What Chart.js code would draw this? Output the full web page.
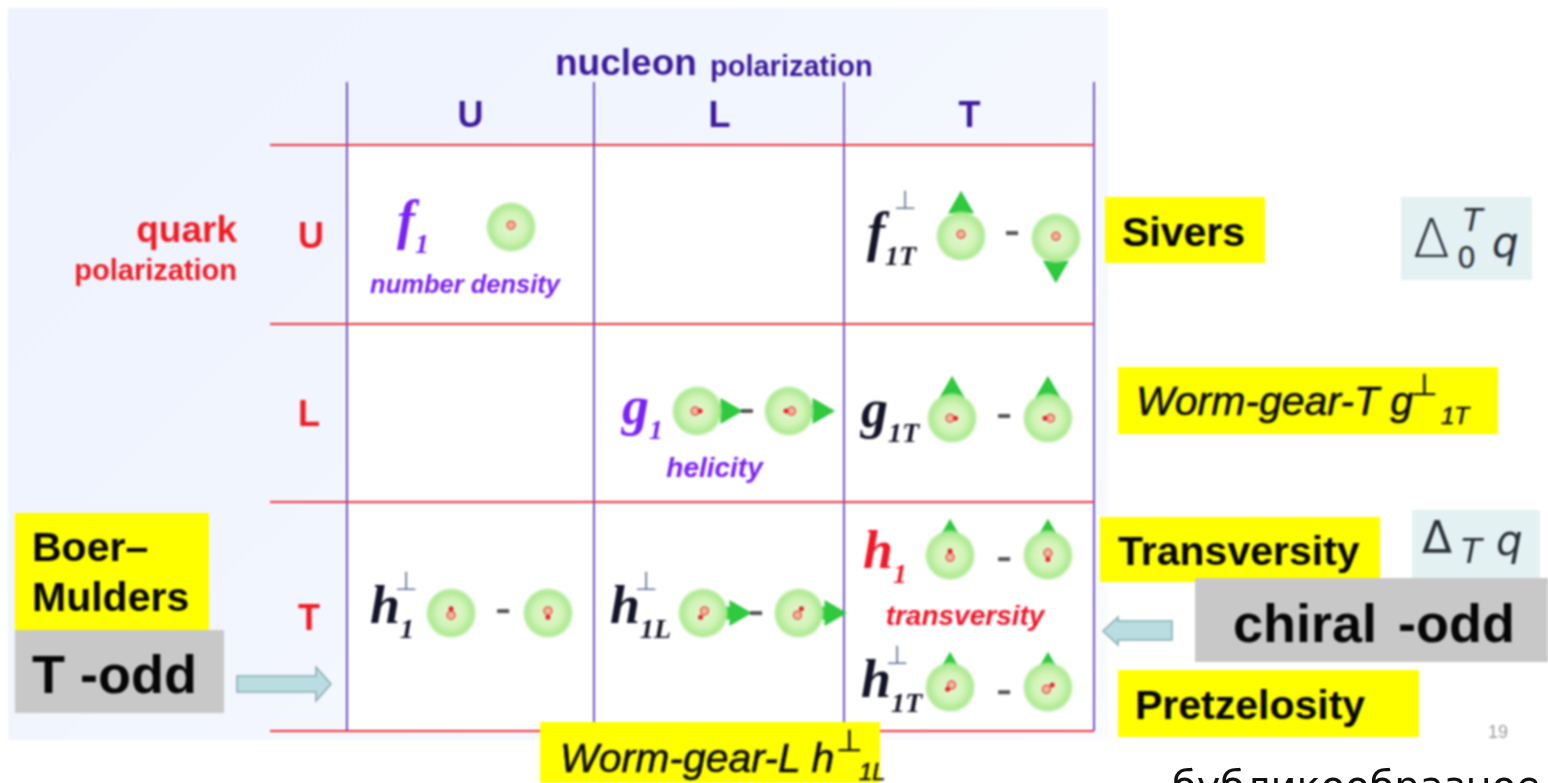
<!DOCTYPE html>
<html lang="en">
<head>
<meta charset="UTF-8">
<title>Nucleon TMDs</title>
<script src="https://cdn.jsdelivr.net/npm/chart.js"></script>
<style>
    html, body { margin: 0; padding: 0; background: #fff; overflow: hidden; }
    #page { position: absolute; left: 0; top: 0; width: 1548px; height: 783px; overflow: hidden; font-family: "Liberation Sans", Arial, sans-serif; }
    #soft { position: absolute; left: 0; top: 0; width: 1548px; height: 783px; filter: blur(0.9px); }
    #panel { position: absolute; left: 8px; top: 8px; width: 1100px; height: 732px; background: linear-gradient(135deg, #edf2fe 0%, #f2f6fe 45%, #fafbfe 100%); }
    canvas { position: absolute; left: 0; top: 0; }
    .t { position: absolute; white-space: nowrap; line-height: 1; }
    .box { position: absolute; }
    .yel { background: #ffff00; }
    .gray { background: #c8c8c8; }
    .pale { background: #e3f1f3; }
    .b { font-weight: bold; color: #060606; font-size: 41px; }
    .wg { font-style: italic; color: #0a0a0a; font-size: 41px; -webkit-text-stroke: 0.5px #0a0a0a; }
    .odd { font-weight: bold; color: #060606; font-size: 54px; }
    .head { font-weight: bold; color: #3c1a9c; }
    .red { font-weight: bold; color: #f01c24; }
    .math { font-family: "DejaVu Sans", sans-serif; color: #2a3038; }
</style>
</head>
<body>
<div id="page">
<div id="soft">
    <div id="panel"></div>
    <canvas id="tabla" width="1548" height="783"></canvas>

    <div class="t head" style="left:555px;top:44px;font-size:37px">nucleon</div>
    <div class="t head" style="left:710px;top:52px;font-size:29px">polarization</div>
    <div class="t red" style="right:1311px;top:211px;font-size:37px">quark</div>
    <div class="t red" style="right:1311px;top:256px;font-size:29px">polarization</div>

    <div class="box yel" style="left:15px;top:513px;width:194px;height:117px"></div>
    <div class="t b" style="left:32px;top:527px">Boer–</div>
    <div class="t b" style="left:32px;top:577px">Mulders</div>
    <div class="box gray" style="left:15px;top:630px;width:209px;height:83px"></div>
    <div class="t odd" style="left:32px;top:647px">T -odd</div>

    <div class="box yel" style="left:540px;top:722px;width:340px;height:61px"></div>
    <div class="t wg" style="left:560px;top:738px">Worm-gear-L h</div>
    <div class="t wg" style="left:836px;top:726px;font-size:30px;font-family:'DejaVu Sans'">⊥</div>
    <div class="t wg" style="left:859px;top:760px;font-size:24px">1L</div>

    <div class="box yel" style="left:1105px;top:197px;width:160px;height:66px"></div>
    <div class="t b" style="left:1122px;top:212px">Sivers</div>

    <div class="box pale" style="left:1401px;top:197px;width:131px;height:83px"></div>
    <div class="t math" style="left:1413px;top:212px;font-size:54px;font-weight:200">Δ</div>
    <div class="t math" style="left:1463px;top:204px;font-size:32px;font-style:italic">T</div>
    <div class="t math" style="left:1457px;top:243px;font-size:30px">0</div>
    <div class="t math" style="left:1492px;top:222px;font-size:42px;font-style:italic">q</div>

    <div class="box yel" style="left:1118px;top:367px;width:380px;height:67px"></div>
    <div class="t wg" style="left:1136px;top:381px">Worm-gear-T g</div>
    <div class="t wg" style="left:1411px;top:370px;font-size:30px;font-family:'DejaVu Sans'">⊥</div>
    <div class="t wg" style="left:1441px;top:404px;font-size:24px">1T</div>

    <div class="box yel" style="left:1100px;top:517px;width:280px;height:65px"></div>
    <div class="t b" style="left:1118px;top:531px">Transversity</div>

    <div class="box pale" style="left:1412px;top:510px;width:128px;height:68px"></div>
    <div class="t math" style="left:1422px;top:516px;font-size:44px">Δ</div>
    <div class="t math" style="left:1461px;top:534px;font-size:34px;font-style:italic">T</div>
    <div class="t math" style="left:1496px;top:520px;font-size:42px;font-style:italic">q</div>

    <div class="box gray" style="left:1195px;top:578px;width:353px;height:84px"></div>
    <div class="t odd" style="left:1233px;top:596px;word-spacing:6px">chiral -odd</div>

    <div class="box yel" style="left:1118px;top:670px;width:301px;height:67px"></div>
    <div class="t b" style="left:1135px;top:685px">Pretzelosity</div>

    <div class="t" style="left:1488px;top:723px;font-size:18px;color:#9a9a9a">19</div>

    <svg style="position:absolute;left:0;top:0" width="1548" height="783">
        <polygon points="237,676 316,676 316,667 331,684 316,701 316,692 237,692" fill="#b9dde0" stroke="#86acb0" stroke-width="1.5"/>
        <polygon points="1172,621 1118,621 1118,617 1103,631 1118,645 1118,640 1172,640" fill="#b9dde0" stroke="#86acb0" stroke-width="1.5"/>
    </svg>
</div>
<div class="t" style="left:1172px;top:766px;font-size:40px;color:#111;font-family:'DejaVu Sans'">бубликообразное</div>
</div>

<script>
    // Ejes de la tabla (unidades de celda)
    const colLabels = ['U', 'L', 'T'];
    const rowLabels = ['U', 'L', 'T'];
    const colTicks = [0, 0.496, 0.992, 1.496, 1.996, 2.5, 3];
    const rowTicks = [0, 0.52, 1, 1.52, 2, 2.66, 3.28];

    // Funciones de cada celda
    const fnMain = ['f', 'h', 'g', 'h', 'f', 'g', 'h', 'h'];
    const fnSub = ['1', '1', '1', '1L', '1T', '1T', '1', '1T'];
    const fnPerp = [false, true, false, true, true, false, false, true];
    const fnTint = ['#7a22f5', '#141428', '#7a22f5', '#141428', '#141428', '#141428', '#f0182a', '#141428'];
    const fnX = [0.201, 0.092, 1.104, 1.056, 2.088, 2.064, 2.072, 2.064];
    const fnY = [0.521, 2.676, 1.562, 2.676, 0.588, 1.579, 2.368, 3.091];

    // Leyendas en cursiva
    const capText = ['number density', 'helicity', 'transversity'];
    const capTint = ['#7a22f5', '#7a22f5', '#f0182a'];
    const capX = [0.474, 1.476, 2.482];
    const capY = [0.831, 1.856, 2.686];
    const capSize = [25.5, 28, 28];

    // Nucleones
    const sphereX = [0.659, 0.418, 0.807, 1.406, 1.775, 1.430, 1.815, 2.466, 2.847, 2.430, 2.815, 2.422, 2.815, 2.422, 2.815];
    const sphereY = [0.459, 2.620, 2.620, 1.489, 1.489, 2.620, 2.620, 0.510, 0.521, 1.529, 1.529, 2.296, 2.296, 3.035, 3.035];

    // Quark dentro del nucleon: anillo y punto
    const ringX = [0.659, 0.418, 0.807, 1.398, 1.785, 1.436, 1.809, 2.466, 2.847, 2.422, 2.825, 2.422, 2.815, 2.428, 2.809];
    const ringY = [0.449, 2.632, 2.608, 1.489, 1.489, 2.608, 2.632, 0.500, 0.511, 1.529, 1.529, 2.308, 2.284, 3.023, 3.047];
    const dotX = [0.418, 0.807, 1.418, 1.763, 1.420, 1.825, 2.444, 2.803, 2.412, 2.832, 2.422, 2.815];
    const dotY = [2.596, 2.644, 1.489, 1.489, 2.644, 2.596, 1.529, 1.529, 3.047, 3.023, 2.272, 2.320];

    // Flechas de espin
    const arrowX = [2.466, 2.847, 2.430, 2.815, 2.422, 2.815, 2.422, 2.815, 1.530, 1.900, 1.566, 1.948];
    const arrowY = [0.340, 0.690, 1.375, 1.375, 2.176, 2.176, 2.920, 2.920, 1.489, 1.489, 2.620, 2.620];
    const arrowTurn = [0, 180, 0, 0, 0, 0, 0, 0, 90, 90, 90, 90];

    // Signos menos
    const minusX = [0.627, 1.606, 1.643, 2.671, 2.639, 2.639, 2.639];
    const minusY = [2.609, 1.489, 2.620, 0.493, 1.517, 2.318, 3.063];

    function toPoints(xs, ys) {
        return xs.map((x, i) => ({ x: x, y: ys[i] }));
    }

    // Esfera verde como imagen de punto
    function makeSphere(r) {
        const c = document.createElement('canvas');
        c.width = c.height = r * 2;
        const g = c.getContext('2d');
        const grad = g.createRadialGradient(r, r, 0, r, r, r);
        grad.addColorStop(0, '#e4f8d2');
        grad.addColorStop(0.55, '#d2f4b8');
        grad.addColorStop(0.88, '#aeea92');
        grad.addColorStop(1, 'rgba(185,235,160,0.5)');
        g.fillStyle = grad;
        g.beginPath();
        g.arc(r, r, r, 0, Math.PI * 2);
        g.fill();
        return c;
    }

    const fondoTabla = {
        id: 'fondoTabla',
        beforeDraw(chart) {
            const a = chart.chartArea;
            chart.ctx.fillStyle = '#ffffff';
            chart.ctx.fillRect(a.left, a.top, a.right - a.left, a.bottom - a.top);
        }
    };

    const textoCeldas = {
        id: 'textoCeldas',
        afterDatasetsDraw(chart) {
            const ctx = chart.ctx, sx = chart.scales.x, sy = chart.scales.y;
            ctx.save();
            ctx.textBaseline = 'alphabetic';
            ctx.textAlign = 'left';
            fnMain.forEach((m, i) => {
                const px = sx.getPixelForValue(fnX[i]), py = sy.getPixelForValue(fnY[i]);
                ctx.fillStyle = fnTint[i];
                ctx.font = 'italic bold 54px "Liberation Serif"';
                ctx.fillText(m, px, py);
                const w = ctx.measureText(m).width;
                ctx.font = 'italic bold 28px "Liberation Serif"';
                ctx.fillText(fnSub[i], px + w, py + 15);
                if (fnPerp[i]) {
                    ctx.fillStyle = '#5f6f92';
                    ctx.font = '26px "DejaVu Sans"';
                    const isF = m === 'f';
                    ctx.fillText('⊥', px + w + (isF ? 9 : -5), py - (isF ? 41 : 33));
                }
            });
            ctx.textAlign = 'center';
            capText.forEach((c, i) => {
                ctx.fillStyle = capTint[i];
                ctx.font = 'italic bold ' + capSize[i] + 'px "Liberation Sans"';
                ctx.fillText(c, sx.getPixelForValue(capX[i]), sy.getPixelForValue(capY[i]));
            });
            ctx.restore();
        }
    };

    const chart = new Chart(document.getElementById('tabla').getContext('2d'), {
        type: 'scatter',
        data: {
            datasets: [
                { data: toPoints(dotX, dotY), pointStyle: 'circle', pointRadius: 2.5, pointBackgroundColor: '#e8202c', pointBorderWidth: 0, order: 1 },
                { data: toPoints(ringX, ringY), pointStyle: 'circle', pointRadius: 4, pointBackgroundColor: '#f4b49c', pointBorderColor: '#e2604e', pointBorderWidth: 1.5, order: 2 },
                { data: toPoints(minusX, minusY), pointStyle: 'line', pointRadius: 6, pointBorderColor: '#555555', pointBorderWidth: 4, order: 2 },
                { data: toPoints(sphereX, sphereY), pointStyle: makeSphere(25), order: 3 },
                { data: toPoints(arrowX, arrowY), pointStyle: 'triangle', pointRadius: 15, pointRotation: arrowTurn, pointBackgroundColor: '#2fc93e', pointBorderWidth: 0, order: 4 },
                { data: toPoints(arrowX.map((x, i) => x - (arrowTurn[i] === 90 ? 0.024 : 0)), arrowY.map((y, i) => y + (arrowTurn[i] === 0 ? 0.04 : arrowTurn[i] === 180 ? -0.04 : 0))), pointStyle: 'rect', pointRadius: 9, pointBackgroundColor: '#2fc93e', pointBorderWidth: 0, order: 4 }
            ]
        },
        options: {
            responsive: false,
            animation: false,
            events: [],
            clip: false,
            layout: { padding: { left: 270, right: 454, top: 82, bottom: 52 } },
            plugins: { legend: { display: false }, tooltip: { enabled: false } },
            scales: {
                x: {
                    type: 'linear',
                    position: 'top',
                    min: 0,
                    max: 3,
                    afterFit(scale) { scale.height = 63; },
                    afterBuildTicks(scale) { scale.ticks = colTicks.map(v => ({ value: v })); },
                    border: { display: false },
                    grid: {
                        color: c => (c.tick && colTicks.indexOf(c.tick.value) % 2 === 0) ? '#7052c6' : 'rgba(0,0,0,0)',
                        lineWidth: 2,
                        tickLength: 63
                    },
                    ticks: {
                        autoSkip: false,
                        maxRotation: 0,
                        padding: -57,
                        color: '#3c1a9c',
                        font: { family: 'Liberation Sans', size: 36, weight: 'bold' },
                        callback: v => {
                            const i = colTicks.indexOf(v);
                            return i % 2 === 1 ? colLabels[(i - 1) / 2] : '';
                        }
                    }
                },
                y: {
                    type: 'linear',
                    reverse: true,
                    min: 0,
                    max: 3.28,
                    afterFit(scale) { scale.width = 77; },
                    afterBuildTicks(scale) { scale.ticks = rowTicks.map(v => ({ value: v })); },
                    border: { display: false },
                    grid: {
                        color: c => (c.tick && rowTicks.indexOf(c.tick.value) % 2 === 0) ? '#f0303c' : 'rgba(0,0,0,0)',
                        lineWidth: 2,
                        tickLength: 77
                    },
                    ticks: {
                        autoSkip: false,
                        mirror: true,
                        padding: -49,
                        color: '#f01c24',
                        font: { family: 'Liberation Sans', size: 36, weight: 'bold' },
                        callback: v => {
                            const i = rowTicks.indexOf(v);
                            return i % 2 === 1 ? rowLabels[(i - 1) / 2] : '';
                        }
                    }
                }
            }
        },
        plugins: [fondoTabla, textoCeldas]
    });
</script>
</body>
</html>
